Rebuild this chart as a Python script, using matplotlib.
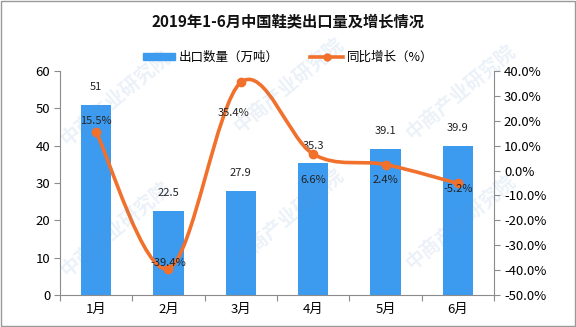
import matplotlib
matplotlib.use("Agg")
import matplotlib.pyplot as plt
from matplotlib.path import Path
from matplotlib.patches import PathPatch, Rectangle
from matplotlib.lines import Line2D
import numpy as np

plt.rcParams['font.family'] = ['Noto Sans CJK SC', 'DejaVu Sans']

months = ['1月', '2月', '3月', '4月', '5月', '6月']
export_qty = [51, 22.5, 27.9, 35.3, 39.1, 39.9]
yoy_growth = [15.5, -39.4, 35.4, 6.6, 2.4, -5.2]

bar_color = '#3d9bef'
line_color = '#f0702c'
axis_gray = '#8c8c8c'

fig = plt.figure(figsize=(5.76, 3.27), dpi=100)
ax = fig.add_axes([0.104, 0.098, 0.754, 0.685])
ax2 = ax.twinx()

x = np.arange(len(months))
ax.bar(x, export_qty, width=0.42, color=bar_color, zorder=2)
for xi, v in zip(x, export_qty):
    ax.annotate(f'{v:g}', (xi, v), xytext=(0, 9), textcoords='offset points',
                ha='center', va='bottom', fontsize=8, color='#222222')

ax.set_xlim(-0.5, len(months) - 0.5)
ax.set_ylim(0, 60)
ax.set_yticks(range(0, 61, 10))
ax2.set_ylim(-50, 40)
ax2.set_yticks(range(-50, 41, 10))
ax2.set_yticklabels([f'{t:.1f}%' for t in range(-50, 41, 10)])

# category boundaries carry the tick marks, labels sit at the centres
ax.set_xticks(np.arange(-0.5, len(months), 1.0))
ax.set_xticklabels([])
ax.set_xticks(x, minor=True)
ax.set_xticklabels(months, minor=True)
ax.tick_params(axis='x', which='major', length=4, color=axis_gray)
ax.tick_params(axis='x', which='minor', length=0, pad=6, labelsize=9.5)
ax.tick_params(axis='y', length=4, color=axis_gray, labelsize=9.5, pad=3)
ax2.tick_params(axis='y', length=4, color=axis_gray, labelsize=9.5, pad=3)

for a in (ax, ax2):
    a.spines['top'].set_visible(False)
    for s in ('left', 'right', 'bottom'):
        a.spines[s].set_color(axis_gray)
ax.spines['right'].set_visible(False)
ax2.spines['left'].set_visible(False)
ax2.spines['bottom'].set_visible(False)

# smoothed growth line (Catmull-Rom as cubic Bezier segments)
pts = np.column_stack([x, yoy_growth]).astype(float)
ext = np.vstack([pts[0], pts, pts[-1]])
verts = [tuple(pts[0])]
codes = [Path.MOVETO]
for i in range(len(pts) - 1):
    p0, p1, p2, p3 = ext[i], ext[i + 1], ext[i + 2], ext[i + 3]
    c1 = p1 + (p2 - p0) / 6.0
    c2 = p2 - (p3 - p1) / 6.0
    verts += [tuple(c1), tuple(c2), tuple(p2)]
    codes += [Path.CURVE4] * 3
ax2.add_patch(PathPatch(Path(verts, codes), facecolor='none', edgecolor=line_color,
                        lw=2.6, zorder=3, capstyle='round'))
ax2.plot(x, yoy_growth, 'o', color=line_color, ms=6, zorder=4)

pct_offsets = [(0, 8), (0, 4), (-5, -22), (0, -19), (0, -11), (0, -4)]
for xi, v, off in zip(x, yoy_growth, pct_offsets):
    ax2.annotate(f'{v:.1f}%', (xi, v), xytext=off, textcoords='offset points',
                 ha='center', va='center', fontsize=8, color='#222222', zorder=5)

# faint diagonal watermark, kept clear of the figure edges
for wx, wy in [(0.2, 0.7), (0.5, 0.74), (0.8, 0.72), (0.2, 0.3),
               (0.5, 0.34), (0.8, 0.32)]:
    fig.text(wx, wy, '中商产业研究院', fontsize=14, color='#5b8fc7', alpha=0.12,
             rotation=40, ha='center', va='center', fontweight='bold', zorder=0)

fig.text(0.5, 0.935, '2019年1-6月中国鞋类出口量及增长情况', ha='center', va='center',
         fontsize=11, fontweight='bold', color='#111111')

handles = [Rectangle((0, 0), 1, 1, color=bar_color),
           Line2D([], [], color=line_color, lw=2.6, marker='o', ms=5)]
fig.legend(handles, ['出口数量（万吨）', '同比增长（%）'], loc='center',
           bbox_to_anchor=(0.5, 0.825), ncol=2, frameon=False, fontsize=9,
           handlelength=2.6, handleheight=0.45, columnspacing=2.5, handletextpad=0.3)

fig.add_artist(Rectangle((0.001, 0.002), 0.997, 0.995, transform=fig.transFigure,
                         fill=False, edgecolor='#999999', lw=1))

fig.savefig('out.png', dpi=100)
